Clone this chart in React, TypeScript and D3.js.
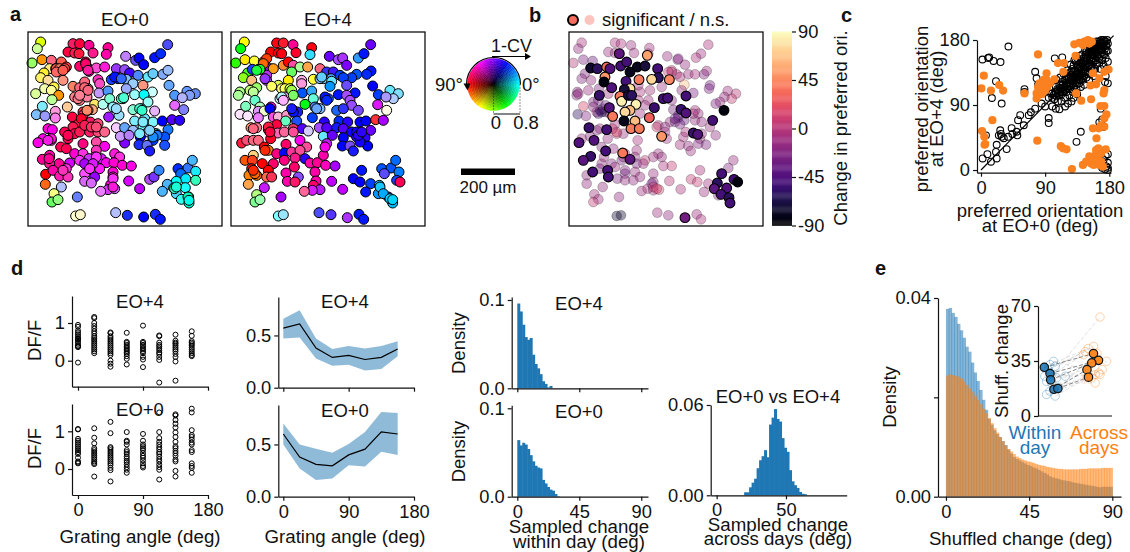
import React, { useEffect, useRef } from "react";
import * as d3 from "d3";

const BLUE = "#1f77b4";
const ORANGE = "#ff7f0e";
const FONT = "'Liberation Sans', Arial, sans-serif";

// cell maps: [x, y, hue, selectivity] in field units (0-582)
const eo0Cells = [
  [38,30,68,1],[28,50,90,.4],[12,93,100,.6],[42,83,35,1],[70,85,350,.6],[65,110,50,.5],[48,123,55,.8],[38,137,55,.6],[60,145,40,.4],[78,165,55,.7],[50,170,70,.3],[70,175,60,.4],[23,185,80,.4],[92,190,35,1],[72,203,100,.4],[43,223,190,.5],[118,225,30,.4],[82,238,320,.4],[25,248,210,.5],[51,252,240,.4],[82,258,310,.5],
  [135,35,340,.9],[155,35,345,1],[183,40,325,1],[120,60,345,1],[140,63,345,.9],[153,65,350,.9],[195,63,330,.9],[240,47,325,1],[235,67,320,1],[100,90,5,.7],[83,110,5,.7],[115,105,355,.8],[155,103,335,1],[173,90,340,1],[177,105,335,.9],[183,118,320,1],[205,108,315,.7],[230,105,310,.9],[100,120,5,.6],[105,145,10,.5],[210,143,320,.8],[215,155,320,.7],[135,163,10,.6],[155,167,350,.6],[170,150,350,.6],[180,170,355,.5],[165,185,350,.6],[140,195,355,.5],[155,205,350,.5],[177,195,345,.5],[213,183,265,.4],[200,217,50,.6],[193,233,20,.5],[180,235,15,.5],[165,240,350,.8],[225,217,170,.3],
  [133,255,345,1],[165,265,350,1],[152,275,345,.9],[187,270,340,.9],[210,275,345,.7],[135,285,345,.9],[110,300,340,1],[120,320,340,1],[140,305,340,1],[155,300,345,.9],[185,300,340,.9],[210,300,345,.7],[230,300,345,.6],[60,290,310,1],[73,293,305,1],[45,320,305,1],[70,325,310,.9],[30,332,305,1],[98,345,340,1],[115,350,340,1],[165,335,330,1],[205,330,330,.7],[230,343,305,1],[140,365,310,1],[165,365,310,.8],[205,355,320,.8],[200,375,315,.7],[43,382,325,1],[65,375,325,1],[93,395,325,1],[65,395,330,.9],[125,393,290,1],[155,385,300,.8],[183,380,285,.8],[220,380,290,.9],[260,365,310,.9],[275,375,310,.8],[290,333,270,1],[235,392,305,1],[258,392,310,1],[283,400,310,1],[310,402,305,1],[170,395,280,1],[190,405,305,1],[215,410,300,.9],[53,427,0,1],[75,415,320,1],[115,410,310,.8],[95,432,320,.9],[120,435,320,.8],[52,457,20,.9],[170,425,300,.7],[200,435,275,1],[170,448,285,.6],[190,453,285,.6],[255,420,310,1],[255,435,310,.8],[302,447,290,1],[248,458,310,1],[240,473,290,.8],[260,470,285,.6],[218,478,290,.5],[335,470,285,1],[365,442,275,.7],[378,435,260,.8],[100,465,230,.3],[78,485,65,.5],[72,510,120,.6],[90,503,110,.5],[148,495,230,.6],[143,552,60,.2],[157,548,50,.2],[263,542,230,.3],[298,550,235,.9],[347,555,240,1],[382,547,235,.9],[397,562,235,1],
  [293,73,270,.5],[323,85,250,.7],[333,78,240,1],[347,98,240,1],[380,77,235,1],[398,65,230,1],[419,38,240,.7],[265,110,270,.8],[290,113,265,.7],[305,123,255,1],[265,137,240,1],[250,143,230,.9],[330,130,220,.7],[360,135,190,.6],[375,125,200,.6],[405,127,220,.5],[420,115,220,.4],[295,142,210,.5],[315,155,210,.4],[345,160,10,.5],[373,180,180,.2],[423,160,215,.6],[240,177,215,.7],[295,170,230,.4],[320,188,180,.4],[348,188,180,1],[245,200,160,.5],[285,200,165,.9],[360,210,175,.4],[440,190,215,.7],[477,178,220,.6],[502,185,225,.6],[485,190,225,.5],[463,197,240,.3],[440,220,290,.6],[467,233,240,.5],[260,227,195,.5],[315,233,160,.5],[340,230,170,.8],[380,237,280,.3],[242,255,275,.9],[273,250,200,.4],[320,267,190,.5],[350,260,190,.6],[375,270,185,.5],[403,267,240,1],[432,263,260,1],[455,265,250,1],[265,287,290,.2],[290,287,215,.6],[345,285,180,.6],[360,300,230,.3],[315,295,220,.4],[385,305,185,.9],[420,293,215,.9],[277,313,270,.4],[303,310,265,.5],[337,315,240,1],[375,325,225,1],[410,315,220,1],[333,338,235,.9],[357,340,235,.6],[410,340,225,.9],[365,357,240,.9],
  [393,415,215,.8],[450,410,230,1],[480,408,220,.8],[493,385,205,.7],[503,418,185,.9],[458,425,215,1],[473,440,185,1],[445,448,180,1],[418,457,205,.7],[503,445,160,.8],[437,468,160,.9],[472,467,180,.9],[403,478,205,.7],[445,485,195,.7],[460,502,175,.8],[482,495,150,1],[483,513,170,1],
  [85,110,5,.7],[95,110,5,.6],[110,110,0,.7],[170,167,355,.6],[180,175,350,.6],[150,200,355,.5],[155,190,350,.5],[280,200,160,.8],[287,197,165,.7],[335,230,165,.7],[342,235,165,.8],[380,305,190,.8],[387,310,215,.9],[375,315,210,.9],[440,470,165,.8],[445,465,170,.9],[480,495,165,1],[483,505,175,1],[255,225,190,.4],[265,230,200,.4],[70,320,310,.9],[60,325,305,.9],[65,370,320,1],[63,380,325,1],[165,250,345,.8],[177,235,15,.6],[173,95,335,1],[180,115,325,.9],[85,120,0,.6],[105,115,5,.7],[160,260,350,1],[170,280,345,.9],[120,310,340,1],[190,285,345,.8],[205,285,345,.7],[270,140,235,1],[260,135,235,1],[280,140,225,.8],[335,305,190,.5],[365,295,200,.5],[345,270,190,.5],[205,375,300,.8],[195,395,290,.9],[185,410,300,.8],[105,415,320,.8],[255,440,300,.8],[255,465,310,.9],
];

const eo4Cells = [
  [40,30,60,1],[29,50,125,1],[14,93,110,1],[42,83,55,1],[70,87,60,.8],[97,90,30,.9],[50,123,110,.9],[37,137,90,.9],[62,145,30,.5],[82,112,130,.9],[64,112,230,.9],[117,110,280,1],[127,110,35,.9],[107,130,280,.8],[107,145,280,.7],[137,33,355,1],[157,33,355,.9],[186,38,325,1],[119,60,0,1],[142,63,0,1],[152,65,355,1],[195,62,350,1],[242,47,355,1],[237,68,190,.8],[107,80,15,1],[97,95,25,1],[157,100,25,.8],[172,90,0,1],[187,100,330,.7],[207,105,110,.4],[230,105,30,.7],[182,120,120,.6],[267,110,350,.6],
  [295,73,265,1],[322,83,270,.7],[335,78,275,.8],[347,100,270,1],[382,78,210,.8],[399,65,235,1],[419,38,265,1],[287,120,240,.8],[307,120,250,.9],[327,130,225,1],[377,127,220,1],[420,117,235,1],[407,127,230,1],[362,137,225,1],[337,137,225,1],[300,140,210,.7],[277,140,200,.5],[247,142,60,.8],[212,145,320,.3],[172,145,55,1],[142,160,70,.7],[122,163,60,.6],[152,170,60,.5],[162,170,60,.6],[177,170,80,.7],[302,148,190,.6],[425,162,240,1],[77,167,100,.6],[57,175,90,.5],[27,180,100,.5],[22,190,110,.4],[67,180,100,.4],[212,155,320,.4],[347,160,250,.7],[297,163,205,1],[372,183,235,1],[322,188,235,1],[442,188,225,1],[477,175,190,.6],[502,185,195,.5],[487,200,220,.3],[465,195,250,.4],[347,190,270,.7],[357,205,270,.7],[214,183,220,1],[242,177,205,.8],[247,200,165,.6],[282,200,240,1],[292,200,225,.9],[182,190,100,.6],[147,200,190,.2],[162,195,300,.4],[72,205,160,.6],[87,225,130,.3],[44,223,150,.5],[120,225,310,.9],[222,217,125,1],[440,218,290,.9],[362,220,265,.7],[467,235,60,.1],[317,235,220,.9],[337,230,240,.8],[382,235,255,.7],[187,235,235,1],[267,230,210,.5],[252,225,220,.7],[82,238,280,.4],[100,237,80,.2],[27,247,300,.1],[50,252,300,.1],[82,257,290,.5],[117,230,240,1],[127,255,310,.7],[142,255,330,.3],[167,250,330,.4],[200,240,240,.9],
  [164,267,155,.6],[197,267,225,.9],[244,257,225,1],[280,270,250,1],[324,267,230,1],[350,270,250,1],[387,270,240,1],[405,267,240,1],[434,263,0,.8],[457,265,280,1],[137,278,345,1],[60,287,15,.6],[77,287,350,.5],[112,293,350,.9],[187,290,345,.8],[214,290,260,1],[232,297,250,.2],[265,287,270,.7],[287,287,260,1],[317,287,240,.9],[337,290,260,1],[362,300,245,1],[387,305,250,1],[419,295,265,1],[140,303,330,.6],[119,320,350,1],[160,300,340,.6],[187,300,335,.7],[277,313,190,.6],[304,310,265,1],[337,317,240,1],[377,315,250,1],[402,317,250,1],[32,333,350,.9],[47,325,345,.7],[67,325,350,.6],[82,325,350,.6],[207,325,305,1],[287,335,285,.9],[334,342,240,1],[357,342,255,.7],[410,342,240,1],[387,330,245,1],[165,337,335,1],[227,345,335,.7],[367,357,240,.9],
  [100,345,0,1],[112,355,30,1],[137,365,330,1],[160,363,240,1],[182,360,330,.8],[207,355,335,.7],[277,370,320,1],[282,345,305,1],[67,370,40,.5],[42,385,20,1],[64,385,10,.9],[94,395,0,1],[127,395,335,1],[160,385,330,1],[192,378,330,.9],[222,380,250,1],[237,393,320,1],[259,392,325,1],[284,400,315,1],[312,402,280,1],[62,410,0,1],[112,415,0,1],[190,405,335,1],[165,423,320,1],[202,435,260,.7],[252,420,320,1],[255,447,320,1],[54,430,30,1],[77,430,25,1],[107,435,10,.7],[122,435,350,.8],[169,448,320,1],[192,450,340,.9],[302,448,285,1],[392,415,235,1],[367,440,240,1],[387,450,240,1],[419,455,225,1],[452,410,220,1],[480,408,220,1],[494,385,215,1],[504,420,210,1],[460,425,245,.7],[497,445,230,.9],[507,450,340,1],[445,460,195,.9],[52,457,30,.7],[247,460,335,1],[267,473,280,.9],[244,475,290,.9],[220,478,340,.6],[335,472,285,1],[404,480,235,1],[442,485,205,1],[472,495,215,1],[100,467,285,.9],[150,495,280,1],[77,488,95,.5],[72,510,130,.5],[87,503,130,.4],[142,552,180,.5],[157,548,195,.4],[482,505,190,1],[485,513,195,1],[264,542,240,.7],[300,548,250,.8],[349,557,275,.8],[384,547,235,1],[398,562,235,1],
  [87,112,125,.9],[77,115,130,.9],[102,140,270,.8],[182,175,90,.7],[187,190,110,.6],[152,195,190,.3],[157,205,300,.3],[282,195,235,1],[287,205,230,1],[267,140,210,.5],[272,135,200,.6],[377,300,245,1],[382,310,250,1],[392,300,250,1],[447,465,195,.9],[457,485,200,1],[477,500,190,1],[485,503,190,1],[187,240,235,1],[182,230,240,.9],[257,230,215,.6],[67,290,350,.6],[112,285,350,.9],[117,300,345,1],[72,425,25,1],[67,415,10,1],[102,355,10,1],
];

// change in preferred orientation map: [x, y, change in deg]
const changeNotSig = [
  [38,32,-5],[28,50,-15],[13,93,0],[43,83,-25],[71,87,-35],[138,32,-5],[156,35,-5],[186,40,-10],[118,60,-10],[138,63,-15],[195,63,-10],[241,48,-8],[238,65,-10],[418,38,-5],[295,73,-12],[326,83,-20],[348,98,-15],[396,65,-10],[381,77,-5],[48,125,-25],[38,140,-20],[66,145,-15],[308,115,5],[323,127,0],[333,135,-5],[358,127,-12],[413,117,-8],[378,127,-5],[405,127,-25],[346,158,65],[25,180,-15],[23,190,-20],[58,175,-10],[90,170,-25],[213,180,-5],[243,175,-8],[278,165,-12],[338,175,-15],[373,183,-25],[423,160,-30],[420,170,-25],[476,177,-8],[501,185,0],[488,200,5],[466,195,-15],[453,210,-10],[440,215,-25],[73,210,-25],[88,205,-30],[43,223,15],[26,247,-60],[51,252,-20],[83,240,-5],[108,240,-50],[93,235,-60],[123,245,-15],[213,245,-10],[313,233,-30],[378,235,-5],[388,245,-10],[328,257,-40],[303,270,-12],[346,265,-35],[318,270,-30],[333,277,-30],[268,280,-5],[263,285,10],[288,285,-15],[378,265,-15],[398,270,-15],[423,285,-10],[143,305,5],[93,290,-15],[83,295,-20],[138,277,-8],[163,305,-10],[116,320,-12],[206,325,-5],[293,320,-10],[343,315,-8],[393,320,-20],[333,338,-8],[358,342,-15],[365,357,-10],[388,335,-20],[411,338,-25],[63,313,-20],[38,320,-10],[98,345,-20],[133,350,-15],[203,355,-8],[168,365,-15],[228,385,5],[198,375,-10],[268,365,-10],[278,375,-15],[253,375,-12],[308,402,5],[283,402,-5],[98,395,-15],[128,395,-20],[158,385,-25],[203,395,-25],[223,395,-10],[253,425,-12],[168,425,-30],[198,420,-10],[53,430,-15],[93,410,-30],[138,405,-12],[168,445,-15],[193,445,-15],[213,435,-15],[253,450,-20],[301,447,0],[366,442,5],[385,450,5],[393,415,-5],[53,455,-15],[101,465,-15],[493,385,-12],[478,408,-20],[418,455,-8],[218,477,-8],[236,470,-5],[248,455,-25],[253,475,-10],[270,473,10],[335,472,-5],[405,480,-10],[448,490,-20],[76,487,-8],[88,502,-10],[73,510,5],[150,495,-15],[143,552,-70],[156,550,-75],[265,542,-8],[298,550,-15],[383,547,-8],[396,562,-5],
  [98,240,-70],[88,245,-50],[103,230,-40],[73,225,-20],[328,250,-35],[318,260,-35],[253,465,5],[263,470,15],[308,120,0],[298,120,5],[168,415,-25],[163,375,-20],[288,300,-10],[143,300,15],[118,185,-10],[208,205,-5],[398,305,-15],[28,185,-15],[328,80,-20],[238,205,-10],[308,205,-20],[373,245,-8],[208,160,-8],[228,220,-10],[110,220,-30],[130,290,5],[105,375,-15],[145,440,-25],[440,310,-15],[350,300,-5],
];
const changeSig = [
  [151,65,-40],[235,70,55],[65,108,-75],[85,110,-60],[113,105,35],[123,110,-45],[155,102,-50],[173,90,-50],[183,120,-80],[205,105,-80],[228,102,-70],[266,110,-50],[268,137,-60],[248,142,75],[210,143,40],[301,143,45],[108,135,50],[105,150,-85],[128,167,-45],[171,148,-50],[183,170,80],[166,173,-70],[91,190,-55],[153,193,40],[158,208,85],[178,190,-70],[188,190,-60],[121,227,-45],[201,217,85],[256,227,-55],[283,200,-50],[296,198,-50],[351,192,-50],[465,235,-85],[183,235,65],[168,240,75],[336,232,-55],[351,243,-45],[131,253,40],[241,257,30],[198,267,65],[165,267,-80],[431,265,-50],[60,287,-55],[113,293,-50],[186,290,40],[211,290,40],[373,303,-55],[386,307,-45],[278,313,50],[30,332,-45],[75,325,-45],[110,357,-50],[161,363,40],[65,373,-55],[43,385,-40],[183,382,-40],[116,415,-50],[71,420,-50],[118,435,-50],[458,425,-50],[495,442,-50],[506,450,-85],[445,453,-60],[436,470,-40],[473,468,-45],[456,487,-50],[480,497,-60],[483,513,-50],[348,557,-30],
];

// preferred orientation at EO+0 vs EO+4 (deg)
const stableCells = [
  [38.5,171],[2,153],[10,155],[11.6,156],[17.6,151],[27.4,149.5],[21,123],[15.3,99.7],[29,92],[61,112],[61,108],[76,136],[78,127],[80,118],[76,85],[67,76],[55,76],[52,69],[43,58],[27,55],[28,50],[29,46],[38,46],[50,53],[51,48],[25,48],[32,44],[44,50],[22,35],[21,25],[36,29],[9,22],[2.3,16],[14,11.5],[22,16],[95,72],[95,65],[140,53],[134,39],[85,92],[90,88],[70,80],[7,48],[60,62],
  [103.5,154.6],[114,156],[100,100],[103,98],[105,106],[108,110],[110,104],[112,112],[115,108],[117,115],[120,118],[122,112],[125,120],[127,125],[130,122],[132,128],[128,132],[135,135],[137,130],[138,140],[140,135],[142,145],[145,140],[145,150],[147,155],[150,148],[150,158],[152,152],[155,160],[155,150],[157,165],[160,158],[160,170],[162,165],[165,172],[165,160],[167,178],[170,175],[172,180],[175,178],[158,172],[162,178],[168,168],[172,170],[176,172],[178,165],[173,160],[175,155],[178,150],[170,152],[166,148],[163,147],[176,140],[175,130],[174,122],[178,120],[168,140],[172,145],[105,115],[110,118],[114,122],[118,125],[122,130],[125,135],[128,140],[130,145],[133,150],[135,155],[138,158],[142,160],[146,166],[150,170],[153,168],[120,108],[125,112],[130,115],[135,120],[140,125],[145,130],[150,135],[155,140],[160,140],[100,88],[105,85],[110,84],[118,88],[122,92],[127,95],[130,100],[135,105],[113,95],[118,100],[108,95],[124,103],[129,108],[134,112],[140,115],[145,118],[152,125],[158,130],[95,100],[98,106],[106,125],[111,128],[116,133],[121,138],[126,146],[131,152],[136,146],[141,152],[147,160],[152,163],
  [178,10],[176,5],[178,3],[174,1],[170,3],[172,14],[175,20],[178,22],[170,70],[172,60],[168,85],[178,0],[166,66],
  [102,104],[106,102],[108,106],[111,108],[113,105],[114,114],[116,112],[118,110],[119,120],[121,116],[123,122],[124,116],[126,118],[126,128],[128,124],[129,119],[130,130],[131,125],[133,132],[134,124],[135,128],[136,138],[137,133],[138,126],[139,132],[139,143],[141,138],[142,130],[143,136],[143,148],[144,142],[146,136],[146,146],[147,150],[148,142],[149,154],[150,144],[151,162],[152,146],[153,156],[154,164],[155,144],[156,155],[157,160],[158,150],[158,167],[159,175],[160,163],[161,152],[162,170],[163,175],[164,168],[165,178],[166,155],[166,165],[167,172],[168,158],[168,176],[169,180],[170,166],[170,172],[171,160],[172,176],[173,178],[174,168],[175,172],[176,165],[177,180],[178,175],[163,158],[159,168],[156,170],[154,172],[148,165],[144,155],[140,148],[136,142],[132,138],[127,136],[123,128],[119,130],[115,118],[111,114],[107,112],[104,108],[100,106],[133,118],[138,120],[143,125],[148,128],[153,133],[158,138],[161,146],
];
const flippedCells = [
  [80,160],[4,130.6],[0.5,113],[14,110],[25.5,117.7],[31,110],[61,106],[16,69],[1.5,54],[4.6,46],[6,36],[5,35],[79,40.6],[112,33],[115,30],[120,28.6],[127.6,1.4],
  [78,106],[80,115],[80,108],[82.5,113],[85,111],[90,118],[92,134],[92,125],[87,115],[96.5,120],[103,125.5],[78,99],[85,105],[85,120],[88,125],[90,110],[82,120],[93,115],
  [108,148],[116.5,148],[115.5,136],[132.7,158],[133.6,106],[140.6,96],[154.5,98],[157,134],[153.6,117],[161.5,118.6],[166,127],[173,136],[179,139],[173,110.7],[172,106],[167.5,88.6],[173,88.6],[176,77],[173,71.5],[168.4,62],[165,57.7],[173,60],[157,57.7],[162,44],
  [131,174],[138,176],[145,177.7],[152,175],[155.5,177.7],[143,173],[150,180],
  [143,7],[152,19],[147.5,11.5],[154.5,9],[161.5,27.7],[164,16],[175,28.6],[168.4,11.5],[161,21],[171,4.6],[158,7],[168.4,23],[164.7,30],[159,11.5],[166,7],
];

// single trial responses at each grating angle
const gratingAngles = [0, 22.5, 45, 67.5, 90, 112.5, 135, 157.5];
const trialsEO4 = [
  [.95,.9,.8,.75,.7,.65,.6,.58,.55,.5,.45,.4,.38,.36,-.05],
  [1.16,1.13,1,.92,.85,.78,.72,.65,.6,.55,.5,.45,.4,.35,.3,.25,.2],
  [.75,.73,.65,.6,.55,.5,.45,.4,.35,.3,.25,.2,.15,0,-.08,-.16],
  [.74,.5,.47,.42,.38,.34,.3,.26,.22,.18,.12,.05,-.1],
  [.93,.5,.47,.42,.38,.33,.3,.25,.2,.1,.03,-.17],
  [.67,.65,.48,.42,.38,.33,.28,.22,.18,.1,.02,-.58],
  [.69,.53,.48,.45,.4,.35,.3,.25,.18,.1,-.02,-.53],
  [.78,.66,.52,.48,.44,.4,.35,.3,.25,.2,.15,.12],
];
const trialsEO0 = [
  [1.06,1.05,.8,.75,.7,.65,.6,.55,.5,.45,.4,.3,.2,.17,.15],
  [1.08,.83,.68,.55,.5,.45,.4,.35,.3,.25,.2,.16,.13,-.2],
  [1.25,.95,.58,.55,.5,.45,.4,.35,.3,.25,.2,.15,.1,.03,-.03,-.33],
  [.98,.75,.72,.65,.5,.45,.4,.33,.28,.22,.18,.12,.05,-.02,-.1],
  [.93,.75,.65,.6,.55,.5,.42,.35,.3,.23,.15,.08,.04],
  [1.5,.98,.82,.72,.65,.58,.52,.45,.4,.33,.26,.2,.12,.05,-.02,-.28],
  [1.45,1.42,1.3,1.2,1.1,.97,.85,.72,.6,.55,.48,.42,.35,.25,.2,-.05,-.2],
  [1.6,1.5,1.03,.9,.85,.78,.7,.65,.5,.45,.15,.08,.03,-.1],
];

// tuning curves
const meanEO4 = [.57,.61,.38,.29,.31,.27,.29,.37];
const lowEO4 = [.47,.48,.28,.21,.22,.165,.18,.30];
const highEO4 = [.66,.74,.47,.37,.40,.375,.40,.445];
const meanEO0 = [.60,.38,.31,.295,.40,.455,.62,.60];
const lowEO0 = [.50,.27,.16,.175,.30,.29,.43,.40];
const highEO0 = [.70,.50,.46,.42,.505,.62,.81,.80];

// sampled change histograms
const withinBin = 1.8;
const withinEO4 = [.096,.087,.072,.058,.055,.057,.038,.0275,.0226,.016,.008,.005,.001,.0026];
const withinEO0 = [.064,.058,.061,.059,.054,.047,.040,.035,.033,.032,.019,.015,.011,.008,.0068,.003,.0005];
const acrossStart = 19.8;
const acrossDays = [.002,.002,.0053,.0084,.011,.018,.0233,.026,.03,.0253,.047,.0516,.0573,.0507,.049,.038,.0316,.0289,.0167,.0093,.0067,.0049,.0022,.001,.0007];

// shuffled change histograms
const shuffleBin = 1.5;
const shuffledWithin = [.0378,.0380,.0370,.0362,.0348,.0335,.0320,.0302,.0292,.0270,.0250,.0233,.0215,.0195,.0175,.0157,.0145,.0134,.0126,.0120,.0112,.0104,.0095,.0087,.0080,.0076,.0073,.0070,.0067,.0064,.0062,.0059,.0057,.0054,.0051,.0048,.0045,.0041,.0039,.0037,.0036,.0034,.0033,.0032,.0031,.0029,.0028,.0027,.0026,.0025,.0024,.0023,.0022,.0021,.0020,.0019,.0020,.0020,.0020,.0020];
const shuffledAcross = [.0244,.0246,.0245,.0243,.0242,.0238,.0232,.0225,.0218,.0211,.0203,.0195,.0187,.0177,.0168,.0158,.0148,.0138,.0129,.0120,.0112,.0103,.0096,.0091,.0086,.0081,.0078,.0075,.0073,.0071,.0070,.0068,.0066,.0064,.0063,.0062,.0060,.0059,.0058,.0057,.0056,.0056,.0055,.0055,.0055,.0055,.0055,.0055,.0056,.0056,.0056,.0057,.0057,.0057,.0057,.0057,.0058,.0058,.0058,.0058];

// inset: [jitter, value]
const mouseWithin = [[-.08,22],[.0,32.7],[.12,31.6],[-.04,29.5],[.35,25.3],[.08,34.8],[.15,24.3],[.04,21],[-.08,13.7],[.12,12.7],[0,15.8],[-.12,25.3],[.04,26.4],[.2,18]];
const mouseAcross = [[.15,63],[-.12,43],[0,44.3],[-.19,41],[.3,34.8],[.12,27.4],[.15,26.4],[.04,21],[-.04,24.3],[-.15,24.3],[.2,29.5],[.04,26.4],[-.23,39],[.08,40]];
const meanWithin = [[-.13,31],[0,27],[.015,23],[.09,17],[.18,17.5]];
const meanAcross = [[0,39.7],[.115,35.4],[-.04,33.8],[-.15,29.5],[-.115,24.7]];

const txt = (g, s, x, y, o: any = {}) => {
  const t = g.append("text")
    .attr("x", o.rotate ? 0 : x).attr("y", o.rotate ? 0 : y)
    .attr("font-size", o.size || 18.5)
    .attr("font-family", FONT)
    .attr("font-weight", o.bold ? 700 : 400)
    .attr("fill", o.fill || "#111")
    .attr("text-anchor", o.anchor || "middle")
    .text(s);
  if (o.rotate) t.attr("transform", `translate(${x},${y}) rotate(-90)`);
  return t;
};

const axis = (g, gen, tx, ty, size = 18.3) => {
  const a = g.append("g").attr("transform", `translate(${tx},${ty})`).call(gen);
  a.selectAll("path,line").attr("stroke", "#111").attr("stroke-width", 1.2);
  a.selectAll("text").attr("font-size", size).attr("font-family", FONT).attr("fill", "#111");
  return a;
};

const leftAxis = (g, y, x, ticks, fmt) =>
  axis(g, d3.axisLeft(y).tickValues(ticks).tickSize(4).tickSizeOuter(0).tickPadding(3).tickFormat(fmt), x, 0);
const bottomAxis = (g, x, y, ticks, labels = true) =>
  axis(g, d3.axisBottom(x).tickValues(ticks).tickSize(4).tickSizeOuter(0).tickPadding(4)
    .tickFormat(labels ? (d => `${d}`) : () => ""), 0, y);

const cellMap = (g, cells, left) => {
  const x = d3.scaleLinear().domain([0, 582]).range([left, left + 194]);
  const y = d3.scaleLinear().domain([0, 582]).range([32, 226]);
  g.selectAll(null).data(cells).join("circle")
    .attr("cx", d => x(d[0])).attr("cy", d => y(d[1])).attr("r", 5)
    .attr("fill", d => d3.hsl(d[2], 1, 1 - d[3] / 2).formatHex())
    .attr("stroke", "#000").attr("stroke-width", 1);
  g.append("rect").attr("x", left).attr("y", 32).attr("width", 194).attr("height", 194)
    .attr("fill", "none").attr("stroke", "#111").attr("stroke-width", 1.3);
};

const App = () => {
  const ref = useRef<SVGSVGElement>(null);

  useEffect(() => {
    const svg = d3.select(ref.current);
    svg.selectAll("*").remove();

    // panel labels
    [["a", 10, 21], ["b", 529, 22], ["c", 841, 22], ["d", 11, 275], ["e", 875, 275]].forEach(([s, x, y]) =>
      txt(svg, s, x, y, { bold: true, size: 20, anchor: "start" }));

    // a
    cellMap(svg, eo0Cells, 28);
    cellMap(svg, eo4Cells, 231);
    txt(svg, "EO+0", 125, 26);
    txt(svg, "EO+4", 328, 26);

    // orientation wheel
    const wheelX = 493.5, wheelY = 84.5, wheelR = 26;
    const wheel = svg.append("g").attr("transform", `translate(${wheelX},${wheelY})`);
    const arcGen = d3.arc();
    const radial = d3.range(0, 16), angular = d3.range(0, 40);
    radial.forEach(r => angular.forEach(a => {
      const deg = (a + 0.5) * 9;
      const color = d3.hsl((180 + 90 - deg + 360) % 360, 1, ((r + 1) / 16) / 2).formatHex();
      wheel.append("path")
        .attr("d", arcGen({
          innerRadius: (r * wheelR) / 16, outerRadius: ((r + 1) * wheelR) / 16,
          startAngle: (a * 2 * Math.PI) / 40, endAngle: ((a + 1) * 2 * Math.PI) / 40,
        }))
        .attr("fill", color).attr("stroke", color).attr("stroke-width", .4);
    }));
    const wheelArc = d3.path();
    wheelArc.arc(wheelX, wheelY, wheelR + 1, 0, Math.PI, true);
    svg.append("path").attr("d", wheelArc.toString()).attr("fill", "none").attr("stroke", "#000").attr("stroke-width", 1.2);
    svg.append("path").attr("d", d3.line()([[wheelX - wheelR - 4, wheelY - 1], [wheelX - wheelR + 3, wheelY - 1], [wheelX - wheelR, wheelY + 6]]) + "Z").attr("fill", "#000");
    svg.append("line").attr("x1", 492).attr("x2", 527).attr("y1", 56.5).attr("y2", 56.5).attr("stroke", "#000").attr("stroke-width", 1.2);
    svg.append("path").attr("d", d3.line()([[525, 53], [531, 56.5], [525, 60]]) + "Z").attr("fill", "#000");
    txt(svg, "1-CV", 491, 52, { anchor: "start", size: 18 });
    txt(svg, "90°", 435, 90.5, { anchor: "start" });
    txt(svg, "0°", 522, 90.5, { anchor: "start" });
    [wheelX, wheelX + 26.5].forEach(x =>
      svg.append("line").attr("x1", x).attr("x2", x).attr("y1", wheelY).attr("y2", 114).attr("stroke", "#222").attr("stroke-dasharray", "1 2"));
    svg.append("line").attr("x1", wheelX).attr("x2", wheelX + 26.5).attr("y1", 114).attr("y2", 114).attr("stroke", "#333").attr("stroke-width", 1.2);
    txt(svg, "0", 496, 129);
    txt(svg, "0.8", 526, 129);

    // scale bar
    svg.append("rect").attr("x", 461).attr("y", 168.5).attr("width", 54).attr("height", 6.5).attr("fill", "#000");
    txt(svg, "200 µm", 488, 193, { size: 17 });

    // b
    const bx = d3.scaleLinear().domain([0, 582]).range([569, 763]);
    const by = d3.scaleLinear().domain([0, 582]).range([32, 226]);
    const cmap = v => d3.interpolateMagma((v + 90) / 180);
    svg.selectAll(null).data(changeNotSig).join("circle")
      .attr("cx", d => bx(d[0])).attr("cy", d => by(d[1])).attr("r", 4.9)
      .attr("fill", d => cmap(d[2])).attr("fill-opacity", .4)
      .attr("stroke", "#000").attr("stroke-opacity", .28).attr("stroke-width", .8);
    svg.selectAll(null).data(changeSig).join("circle")
      .attr("cx", d => bx(d[0])).attr("cy", d => by(d[1])).attr("r", 4.9)
      .attr("fill", d => cmap(d[2])).attr("stroke", "#000").attr("stroke-width", 1.1);
    svg.append("rect").attr("x", 569).attr("y", 32).attr("width", 194).attr("height", 194)
      .attr("fill", "none").attr("stroke", "#111").attr("stroke-width", 1.3);
    svg.append("circle").attr("cx", 573).attr("cy", 20).attr("r", 5).attr("fill", cmap(35)).attr("stroke", "#000").attr("stroke-width", 2);
    svg.append("circle").attr("cx", 589.5).attr("cy", 20).attr("r", 5).attr("fill", cmap(35)).attr("fill-opacity", .4);
    txt(svg, "significant / n.s.", 602, 26, { anchor: "start", size: 18.5 });

    // colorbar
    const cy = d3.scaleLinear().domain([-90, 90]).range([225.5, 31.5]);
    svg.selectAll(null).data(d3.range(-90, 90, 1)).join("rect")
      .attr("x", 772).attr("width", 20).attr("y", d => cy(d + 1)).attr("height", cy(0) - cy(1.3))
      .attr("fill", d => cmap(d + .5));
    axis(svg, d3.axisRight(cy).tickValues([-90, -45, 0, 45, 90]).tickSize(4).tickSizeOuter(0).tickPadding(2).tickFormat(d => `${d}`), 792, 0)
      .select(".domain").remove();
    txt(svg, "Change in preferred ori.", 847, 128, { rotate: true });

    // c
    const cx = d3.scaleLinear().domain([-5.6, 182.4]).range([977, 1111]);
    const cyy = d3.scaleLinear().domain([-3.7, 180]).range([172.7, 40]);
    svg.append("line").attr("x1", cx(0)).attr("y1", cyy(0)).attr("x2", cx(186)).attr("y2", cyy(186)).attr("stroke", "#000").attr("stroke-width", 1.2);
    svg.selectAll(null).data(stableCells).join("circle")
      .attr("cx", d => cx(d[0])).attr("cy", d => cyy(d[1])).attr("r", 3.4)
      .attr("fill", "none").attr("stroke", "#000").attr("stroke-width", 1.1);
    svg.selectAll(null).data(flippedCells).join("circle")
      .attr("cx", d => cx(d[0])).attr("cy", d => cyy(d[1])).attr("r", 4.1)
      .attr("fill", "#fb8120");
    leftAxis(svg, cyy, 977, [0, 90, 180], d => `${d}`);
    bottomAxis(svg, cx, 172.7, [0, 90, 180]);
    txt(svg, "preferred orientation", 1040, 217);
    txt(svg, "at EO+0 (deg)", 1040, 232);
    txt(svg, "preferred orientation", 928, 109, { rotate: true });
    txt(svg, "at EO+4 (deg)", 943, 109, { rotate: true });

    // d strip plots
    const sx = d3.scaleLinear().domain([-8.3, 180]).range([72, 208]);
    const stripPanel = (trials, bottom, top, zero, one, title, titleY, labels) => {
      const y = d3.scaleLinear().domain([(zero - bottom) / (zero - one), (zero - top) / (zero - one)]).range([bottom, top]);
      trials.forEach((vals, i) => {
        svg.selectAll(null).data(vals).join("circle")
          .attr("cx", sx(gratingAngles[i])).attr("cy", d => y(d)).attr("r", 2.5)
          .attr("fill", "none").attr("stroke", "#000").attr("stroke-width", 1);
      });
      leftAxis(svg, y, 72, [0, 1], d => `${d}`);
      bottomAxis(svg, sx, bottom, [0, 90, 180], labels);
      txt(svg, title, 140, titleY);
      txt(svg, "DF/F", 41, (top + bottom) / 2 - 1, { rotate: true });
    };
    stripPanel(trialsEO4, 386.7, 296, 360.7, 323, "EO+4", 308, false);
    stripPanel(trialsEO0, 495, 404, 469, 431.3, "EO+0", 416, true);
    txt(svg, "Grating angle (deg)", 140, 543, { size: 18.7 });

    // d tuning curves
    const lx = d3.scaleLinear().domain([-6.9, 180]).range([278.3, 414]);
    const curvePanel = (mean, low, high, bottom, top, title, titleY, labels) => {
      const y = d3.scaleLinear().domain([0, (bottom - top) / 104.5]).range([bottom, top]);
      const band = d3.area().x((_, i) => lx(gratingAngles[i])).y0((_, i) => y(low[i])).y1((_, i) => y(high[i]));
      svg.append("path").attr("d", band(mean)).attr("fill", BLUE).attr("fill-opacity", .5);
      const line = d3.line().x((_, i) => lx(gratingAngles[i])).y(d => y(d));
      svg.append("path").attr("d", line(mean)).attr("fill", "none").attr("stroke", "#000").attr("stroke-width", 1.2);
      leftAxis(svg, y, 278.3, [0, .5], d3.format(".1f"));
      bottomAxis(svg, lx, bottom, [0, 90, 180], labels);
      txt(svg, title, 345, titleY);
    };
    curvePanel(meanEO4, lowEO4, highEO4, 387.7, 297, "EO+4", 308, false);
    curvePanel(meanEO0, lowEO0, highEO0, 496.7, 405, "EO+0", 417, true);
    txt(svg, "Grating angle (deg)", 345, 543, { size: 18.7 });

    // d histograms
    const hx = d3.scaleLinear().domain([-4.06, 94.9]).range([511.7, 648]);
    const histPanel = (vals, bottom, top, title, titleY, labels) => {
      const y = d3.scaleLinear().domain([0, .1]).range([bottom, top]);
      svg.selectAll(null).data(vals).join("rect")
        .attr("x", (_, i) => hx(i * withinBin)).attr("width", hx(withinBin) - hx(0) + .5)
        .attr("y", d => y(d)).attr("height", d => bottom - y(d)).attr("fill", BLUE);
      leftAxis(svg, y.copy().domain([0, (bottom - (top - 3)) / (bottom - top) * .1]).range([bottom, top - 3]), 511.7, [0, .1], d3.format(".1f"));
      bottomAxis(svg, hx, bottom, [0, 45, 90], labels);
      txt(svg, title, 579, titleY);
      txt(svg, "Density", 465, (bottom + top) / 2 - 1, { rotate: true });
    };
    histPanel(withinEO4, 388.3, 300, "EO+4", 310, false);
    histPanel(withinEO0, 496.7, 408.3, "EO+0", 418, true);
    txt(svg, "Sampled change", 579, 533, { size: 18.7 });
    txt(svg, "within day (deg)", 579, 548, { size: 18.7 });

    const ax = d3.scaleLinear().domain([-4.3, 93.8]).range([710.7, 846.7]);
    const ay = d3.scaleLinear().domain([0, .06]).range([495.3, 405]);
    svg.selectAll(null).data(acrossDays).join("rect")
      .attr("x", (_, i) => ax(acrossStart + i * withinBin)).attr("width", ax(withinBin) - ax(0) + .5)
      .attr("y", d => ay(d)).attr("height", d => ay(0) - ay(d)).attr("fill", BLUE);
    leftAxis(svg, ay, 710.7, [0, .06], d3.format(".2f"));
    bottomAxis(svg, ax, 495.3, [0, 50]);
    txt(svg, "EO+0 vs EO+4", 778, 403);
    txt(svg, "Sampled change", 778, 531, { size: 18.7 });
    txt(svg, "across days (deg)", 778, 545, { size: 18.7 });

    // e
    const ex = d3.scaleLinear().domain([-4.3, 94.7]).range([938, 1121]);
    const ey = d3.scaleLinear().domain([0, .04]).range([496.7, 298]);
    [[shuffledWithin, BLUE], [shuffledAcross, ORANGE]].forEach(([vals, color]) => {
      svg.selectAll(null).data(vals).join("rect")
        .attr("x", (_, i) => ex(i * shuffleBin)).attr("width", ex(shuffleBin) - ex(0) + .6)
        .attr("y", d => ey(d)).attr("height", d => ey(0) - ey(d))
        .attr("fill", color).attr("fill-opacity", .55);
    });
    leftAxis(svg, ey, 938, [0, .02, .04], d => (d === .02 ? "" : d3.format(".2f")(d)));
    bottomAxis(svg, ex, 496.7, [0, 45, 90]);
    txt(svg, "Density", 896, 397, { rotate: true });
    txt(svg, "Shuffled change (deg)", 1020.7, 545, { size: 18.7 });

    // e inset
    const ix = d3.scaleLinear().domain([0, 1]).range([1050, 1093.5]);
    const iy = d3.scaleLinear().domain([0, 70]).range([416, 306]);
    const pairs = (a, b, stroke, opacity) =>
      a.forEach((d, i) => svg.append("line")
        .attr("x1", ix(d[0])).attr("y1", iy(d[1])).attr("x2", ix(1 + b[i][0])).attr("y2", iy(b[i][1]))
        .attr("stroke", stroke).attr("stroke-opacity", opacity).attr("stroke-dasharray", "4 2"));
    pairs(mouseWithin, mouseAcross, "#bbb", .45);
    pairs(meanWithin, meanAcross, "#555", .7);
    const dots = (rows, offset, color, dark) => {
      svg.selectAll(null).data(rows).join("circle")
        .attr("cx", d => ix(offset + d[0])).attr("cy", d => iy(d[1])).attr("r", 4.2)
        .attr("fill", dark ? color : "none").attr("fill-opacity", .9)
        .attr("stroke", dark ? "#111" : color).attr("stroke-opacity", dark ? 1 : .35)
        .attr("stroke-width", dark ? 1.2 : 1);
    };
    dots(mouseWithin, 0, BLUE, false);
    dots(mouseAcross, 1, ORANGE, false);
    dots(meanWithin, 0, BLUE, true);
    dots(meanAcross, 1, ORANGE, true);
    axis(svg, d3.axisLeft(iy.copy()).tickValues([0, 35, 70]).tickSize(4).tickSizeOuter(0).tickPadding(3), 1038, 0);
    svg.append("line").attr("x1", 1038).attr("x2", 1112).attr("y1", 416).attr("y2", 416).attr("stroke", "#111").attr("stroke-width", 1.2);
    txt(svg, "Shuff. change", 1008, 361, { rotate: true });
    txt(svg, "Within", 1035, 439, { fill: BLUE, size: 19 });
    txt(svg, "day", 1035, 454, { fill: BLUE, size: 19 });
    txt(svg, "Across", 1099, 439, { fill: ORANGE, size: 19 });
    txt(svg, "days", 1099, 454, { fill: ORANGE, size: 19 });
  }, []);

  return <svg ref={ref} width={1130} height={552} style={{ position: "absolute", left: 0, top: 0, background: "#fff" }} />;
};

export default App;
